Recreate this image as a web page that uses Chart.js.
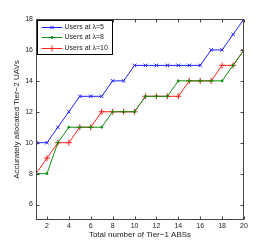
<!DOCTYPE html>
<html>
<head>
<meta charset="utf-8">
<script src="https://cdn.jsdelivr.net/npm/chart.js@4.4.0/dist/chart.umd.min.js"></script>
<style>
  html, body { margin: 0; padding: 0; background: #fff; }
  #wrap { width: 269px; height: 248px; }
</style>
</head>
<body>
<div id="wrap"><canvas id="uavChart" width="269" height="248"></canvas></div>
<script>
// Total number of Tier-1 ABSs (x axis)
const absCounts = [1, 2, 3, 4, 5, 6, 7, 8, 9, 10, 11, 12, 13, 14, 15, 16, 17, 18, 19, 20];

// Accurately allocated Tier-2 UAVs for each user density
const usersLambda5 = [10, 10, 11, 12, 13, 13, 13, 14, 14, 15, 15, 15, 15, 15, 15, 15, 16, 16, 17, 18];
const usersLambda8 = [8, 8, 10, 11, 11, 11, 11, 12, 12, 12, 13, 13, 13, 14, 14, 14, 14, 14, 15, 16];
const usersLambda10 = [8, 9, 10, 10, 11, 11, 12, 12, 12, 12, 13, 13, 13, 13, 14, 14, 14, 15, 15, 16];

const seriesLabels = ['Users at \u03bb=5', 'Users at \u03bb=8', 'Users at \u03bb=10'];

// tick labels
const xTicks = [2, 4, 6, 8, 10, 12, 14, 16, 18, 20];
const yTicks = [6, 8, 10, 12, 14, 16, 18];

const FONT = "'Liberation Sans', Arial, sans-serif";
const TEXT = '#222';
const FRAME = '#444';

function toPoints(values) {
    return values.map((v, i) => ({ x: absCounts[i], y: v }));
}

// Draws the MATLAB style box with ticks pointing inward on all sides
const matlabFrame = {
    id: 'matlabFrame',
    afterDatasetsDraw(chart) {
        const { ctx, chartArea: a, scales: { x, y } } = chart;
        const len = 3;
        const l = Math.round(a.left) + 0.5, r = Math.round(a.right) - 0.5;
        const t = Math.round(a.top) + 0.5, b = Math.round(a.bottom) - 0.5;
        ctx.save();
        ctx.strokeStyle = FRAME;
        ctx.lineWidth = 1;
        ctx.beginPath();
        x.ticks.forEach(tk => {
            const px = Math.round(x.getPixelForValue(tk.value)) + 0.5;
            ctx.moveTo(px, b); ctx.lineTo(px, b - len);
            ctx.moveTo(px, t); ctx.lineTo(px, t + len);
        });
        y.ticks.forEach(tk => {
            const py = Math.round(y.getPixelForValue(tk.value)) + 0.5;
            ctx.moveTo(l, py); ctx.lineTo(l + len, py);
            ctx.moveTo(r, py); ctx.lineTo(r - len, py);
        });
        ctx.stroke();
        ctx.strokeRect(l, t, r - l, b - t);
        ctx.restore();
    }
};

// Legend box in the upper left corner of the plot
const boxLegend = {
    id: 'boxLegend',
    afterDraw(chart) {
        const { ctx, chartArea: a } = chart;
        const bx = Math.round(a.left) + 1.5, by = Math.round(a.top) + 1.5;
        const bw = 75, bh = 34;
        ctx.save();
        ctx.fillStyle = '#fff';
        ctx.fillRect(bx, by, bw, bh);
        ctx.strokeStyle = '#000';
        ctx.lineWidth = 1;
        ctx.strokeRect(bx, by, bw, bh);
        ctx.font = '7px ' + FONT;
        ctx.textBaseline = 'middle';
        chart.data.datasets.forEach((ds, i) => {
            const cy = Math.round(by + 6 + i * 10.8) + 0.5;
            ctx.strokeStyle = ds.borderColor;
            ctx.fillStyle = ds.borderColor;
            ctx.lineWidth = 1;
            ctx.beginPath();
            ctx.moveTo(bx + 4, cy);
            ctx.lineTo(bx + 25, cy);
            ctx.stroke();
            Chart.helpers.drawPoint(ctx, {
                pointStyle: ds.pointStyle, radius: ds.pointRadius,
                rotation: 0, borderWidth: 1
            }, bx + 14.5, cy);
            ctx.fillStyle = TEXT;
            ctx.fillText(ds.label, bx + 27, cy);
        });
        ctx.restore();
    }
};

const colors = ['#2020ff', '#109010', '#ff2020'];
const styles = ['crossRot', 'circle', 'cross'];
const radii = [2.5, 1, 3];

const datasets = [usersLambda5, usersLambda8, usersLambda10].map((vals, i) => ({
    label: seriesLabels[i],
    data: toPoints(vals),
    borderColor: colors[i],
    backgroundColor: colors[i],
    borderWidth: 1,
    pointStyle: styles[i],
    pointRadius: radii[i],
    pointBorderWidth: 1,
    tension: 0,
}));

new Chart(document.getElementById('uavChart').getContext('2d'), {
    type: 'line',
    data: { datasets: datasets },
    options: {
        responsive: false,
        animation: false,
        devicePixelRatio: 1,
        layout: { padding: { top: 19, right: 25, left: 0, bottom: 0 } },
        plugins: {
            legend: { display: false },
            tooltip: { enabled: false },
        },
        scales: {
            x: {
                type: 'linear',
                min: 1,
                max: 20,
                afterBuildTicks: s => { s.ticks = xTicks.map(v => ({ value: v })); },
                afterFit: s => { s.height = 28; },
                grid: { display: false, drawTicks: false },
                border: { display: false },
                ticks: { font: { family: FONT, size: 7 }, color: TEXT, padding: 2, maxRotation: 0 },
                title: {
                    display: true,
                    text: 'Total number of Tier\u22121 ABSs',
                    font: { family: FONT, size: 8 },
                    color: TEXT,
                    padding: { top: 0, bottom: 8 },
                },
            },
            y: {
                type: 'linear',
                min: 5,
                max: 18,
                afterBuildTicks: s => { s.ticks = yTicks.map(v => ({ value: v })); },
                afterFit: s => { s.width = 36; },
                grid: { display: false, drawTicks: false },
                border: { display: false },
                ticks: { font: { family: FONT, size: 7 }, color: TEXT, padding: 3 },
                title: {
                    display: true,
                    text: 'Accurately allocated Tier\u22122 UAVs',
                    font: { family: FONT, size: 8 },
                    color: TEXT,
                    padding: { top: 12, bottom: 0 },
                },
            },
        },
    },
    plugins: [matlabFrame, boxLegend],
});
</script>
</body>
</html>
